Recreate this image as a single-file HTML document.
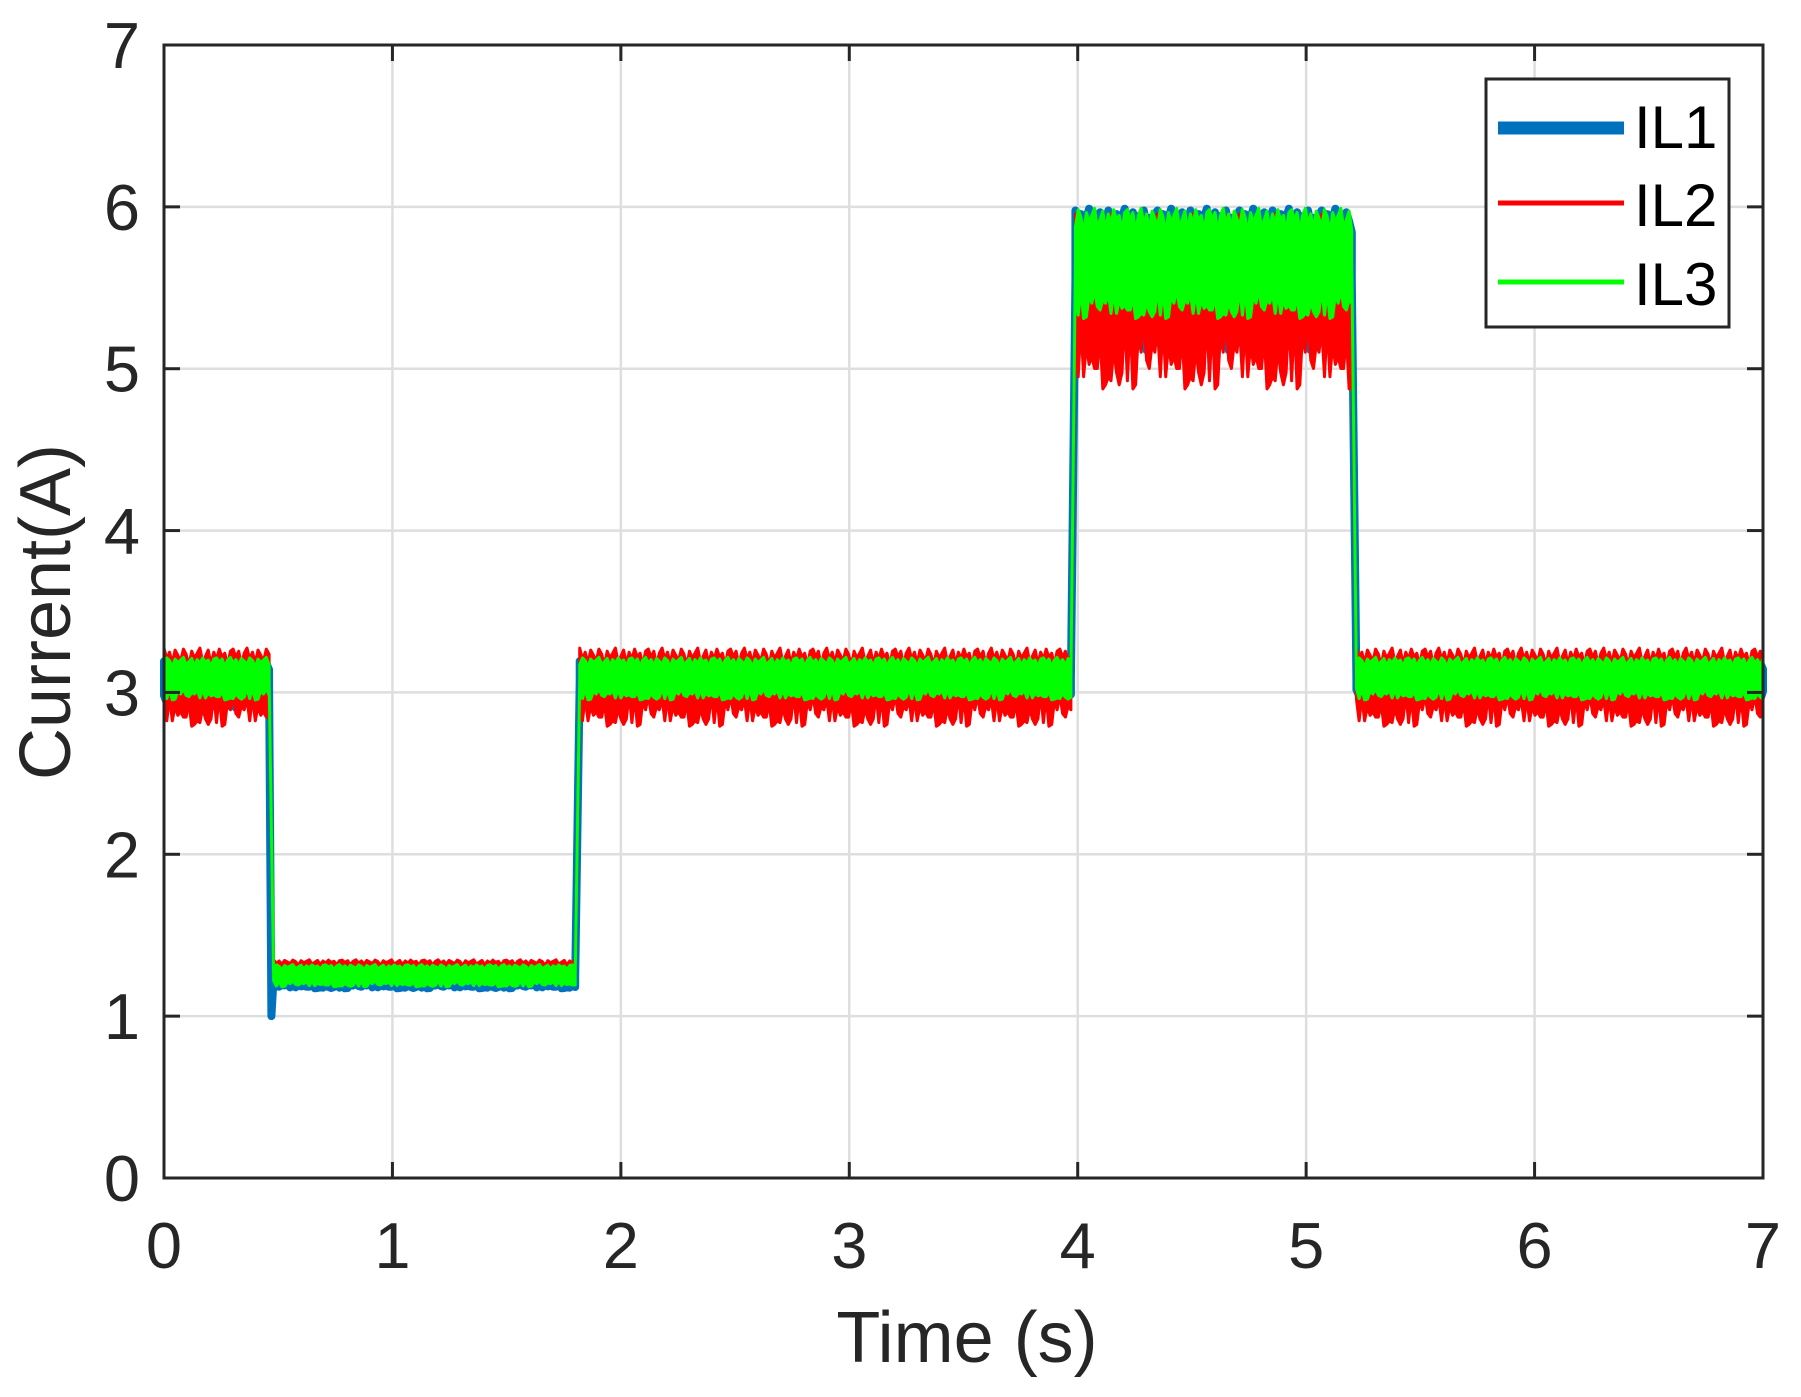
<!DOCTYPE html>
<html><head><meta charset="utf-8"><style>
html,body{margin:0;padding:0;background:#fff;}
svg{display:block;font-family:"Liberation Sans",Arial,sans-serif;}
</style></head><body>
<svg id="chart" width="1801" height="1397" viewBox="0 0 1801 1397" xmlns="http://www.w3.org/2000/svg">
<rect width="1801" height="1397" fill="#fff"/>
<g id="grid"></g>
<g id="series"></g>
<rect x="164" y="45" width="1599" height="1133" fill="none" stroke="#262626" stroke-width="3"/>
<g id="ticks"></g>
<text x="967" y="1362" font-size="72" text-anchor="middle" fill="#262626">Time (s)</text>
<text transform="translate(70,612) rotate(-90)" font-size="72" text-anchor="middle" fill="#262626">Current(A)</text>
<g>
<rect x="1486" y="79" width="243" height="248" fill="#fff" stroke="#262626" stroke-width="3"/>
<line x1="1498" y1="128" x2="1624" y2="128" stroke="#0072BD" stroke-width="13"/>
<line x1="1498" y1="203" x2="1624" y2="203" stroke="#ff0000" stroke-width="5"/>
<line x1="1498" y1="282" x2="1624" y2="282" stroke="#00ff00" stroke-width="5"/>
<text x="1634" y="148" font-size="60" fill="#000">IL1</text>
<text x="1634" y="226" font-size="60" fill="#000">IL2</text>
<text x="1634" y="305" font-size="60" fill="#000">IL3</text>
</g>
</svg>
<script>
const xTicks=[0,1,2,3,4,5,6,7];
const yTicks=[0,1,2,3,4,5,6,7];
// segment boundaries (s)
const segStart=[0,0.48,1.82,3.99,5.22];
const segEnd=[0.46,1.80,3.97,5.20,7.0];
// band upper/lower values per segment
const il1Hi=[3.2,1.3,3.2,6.0,3.2];
const il1Lo=[2.9,1.17,2.95,5.1,2.95];
const il2Hi=[3.28,1.35,3.28,5.97,3.28];
const il2Lo=[2.78,1.2,2.78,4.85,2.78];
const il3Hi=[3.22,1.32,3.22,6.0,3.22];
const il3Lo=[2.95,1.18,2.95,5.3,2.95];
// transition minimum of IL1 (undershoot) at each step
const il1Dip=[1.0,null,null,null];
const jitter=[0.1,0.5,0.2,0.9,0.3,0.05,0.6,0.25,0.8,0.15,0.4,0.7,0.1,0.35,0.95,0.2,0.55,0.3,0.05,0.75,0.45,0.15,0.85,0.25,0.6,0.1,0.5,0.3,0.9,0.2];

const X0=164,X1=1763,Y0=1178,Y1=45;
const sx=v=>X0+(v-0)/(7-0)*(X1-X0);
const sy=v=>Y0-(v-0)/(7-0)*(Y0-Y1);
const NS='http://www.w3.org/2000/svg';
function mk(tag,attrs,parent){const e=document.createElementNS(NS,tag);for(const k in attrs)e.setAttribute(k,attrs[k]);parent.appendChild(e);return e;}

const grid=document.getElementById('grid'),ticks=document.getElementById('ticks');
xTicks.forEach((t,i)=>{
  const gl=mk('line',{x1:sx(t),x2:sx(t),y1:Y1,y2:Y0,stroke:'#dedede','stroke-width':2.5},grid);
  
  
  const a=mk('line',{x1:sx(t),x2:sx(t),y1:Y0,y2:Y0-16,stroke:'#262626','stroke-width':3},ticks);
  
  
  const b=mk('line',{x1:sx(t),x2:sx(t),y1:Y1,y2:Y1+16,stroke:'#262626','stroke-width':3},ticks);
  
  
  const tx=mk('text',{x:sx(t),y:1268,'font-size':65,'text-anchor':'middle',fill:'#262626'},ticks);
  tx.textContent=t;
  
  
});
yTicks.forEach(t=>{
  const gl=mk('line',{x1:X0,x2:X1,y1:sy(t),y2:sy(t),stroke:'#dedede','stroke-width':2.5},grid);
  
  
  const a=mk('line',{x1:X0,x2:X0+16,y1:sy(t),y2:sy(t),stroke:'#262626','stroke-width':3},ticks);
  
  
  const b=mk('line',{x1:X1,x2:X1-16,y1:sy(t),y2:sy(t),stroke:'#262626','stroke-width':3},ticks);
  
  
  const tx=mk('text',{x:140,y:sy(t)+23,'font-size':65,'text-anchor':'end',fill:'#262626'},ticks);
  tx.textContent=t;
  
  
});

const seriesG=document.getElementById('series');
function drawSeries(hi,lo,color,sw,name,off,botFrac,dip){
  let d='';
  for(let s=0;s<segStart.length;s++){
    const n=Math.max(2,Math.round((segEnd[s]-segStart[s])/0.012));
    const span=hi[s]-lo[s];
    let top=[],bot=[];
    for(let i=0;i<=n;i++){
      const t=segStart[s]+(segEnd[s]-segStart[s])*i/n;
      const j1=jitter[(i+off)%jitter.length],j2=jitter[(i*7+off+3)%jitter.length];
      top.push(sx(t).toFixed(1)+','+sy(hi[s]-j1*0.25*span).toFixed(1));
      bot.push(sx(t).toFixed(1)+','+sy(lo[s]+j2*botFrac*span).toFixed(1));
    }
    d+='M'+top.join('L')+'L'+bot.reverse().join('L')+'Z';
    if(s<segStart.length-1){
      const m1=(hi[s]+lo[s])/2,m2=(hi[s+1]+lo[s+1])/2;
      d+='M'+sx(segEnd[s]).toFixed(1)+','+sy(m1).toFixed(1);
      if(dip&&dip[s]!=null) d+='L'+sx((segEnd[s]+segStart[s+1])/2).toFixed(1)+','+sy(dip[s]).toFixed(1);
      d+='L'+sx(segStart[s+1]).toFixed(1)+','+sy(m2).toFixed(1);
    }
  }
  const p=mk('path',{d:d,fill:color,stroke:color,'stroke-width':sw,'stroke-linejoin':'round'},seriesG);
  
  
}
drawSeries(il1Hi,il1Lo,'#0072BD',8,'series-il1',0,0.3,il1Dip);
drawSeries(il2Hi,il2Lo,'#ff0000',3,'series-il2',5,0.45,null);
drawSeries(il3Hi,il3Lo,'#00ff00',3,'series-il3',11,0.3,null);
</script>
</body></html>
